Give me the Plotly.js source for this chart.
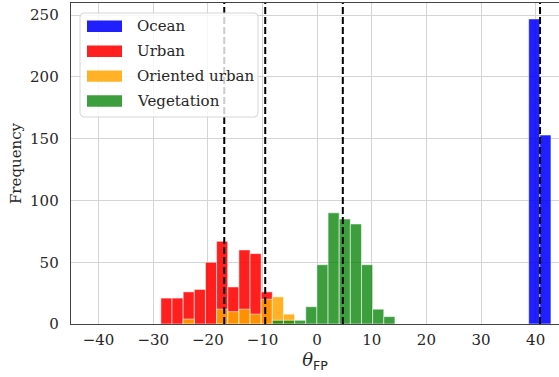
<!DOCTYPE html>
<html>
<head>
<meta charset="utf-8">
<script src="https://cdn.plot.ly/plotly-3.0.1.min.js"></script>
<style>html,body{margin:0;padding:0;background:#fff;}#chart{width:559px;height:377px;}</style>
</head>
<body>
<div id="chart"></div>
<script>
// ---- data ----
const categories = ['Ocean', 'Urban', 'Oriented urban', 'Vegetation'];
// bin centres (degrees) and counts per class
const oceanX = [39.74, 41.78];
const oceanY = [247, 153];
const urbanX = [-27.58, -25.54, -23.50, -21.46, -19.42, -17.38, -15.34, -13.30, -11.26, -9.22];
const urbanY = [21, 21, 26, 28, 50, 67, 30, 60, 57, 26];
const orientedX = [-23.50, -17.38, -15.34, -13.30, -11.26, -9.22, -7.18, -5.14];
const orientedY = [4, 12, 10, 12, 8, 20, 22, 8];
const vegX = [-7.18, -5.14, -3.10, -1.06, 0.98, 3.02, 5.06, 7.10, 9.14, 11.18, 13.22];
const vegY = [3, 3, 3, 14, 48, 90, 85, 81, 48, 12, 6];
const binWidth = 2.04;
// class means (dashed lines)
const meanX = [40.8, -17.0, -9.5, 4.7];
const xTickVals = [-40, -30, -20, -10, 0, 10, 20, 30, 40];
const yTickVals = [0, 50, 100, 150, 200, 250];

(function () {
// ---- styling ----
const colors = ['rgba(0,0,255,0.88)', 'rgba(255,0,0,0.88)', 'rgba(255,165,0,0.85)', 'rgba(0,128,0,0.76)'];
const FONT = 'DejaVu Serif, serif';
const FS = 15;
const TXT = '#262626';

const seriesX = [oceanX, urbanX, orientedX, vegX];
const seriesY = [oceanY, urbanY, orientedY, vegY];

const traces = categories.map((name, i) => ({
  type: 'bar',
  name: name,
  x: seriesX[i],
  y: seriesY[i],
  width: seriesX[i].map(() => binWidth),
  marker: {color: colors[i], line: {color: 'rgba(255,255,255,0.55)', width: 1}},
  showlegend: false,
  hoverinfo: 'x+y+name'
}));

// plot-area geometry in pixels (for the hand-made legend)
const W = 559, H = 377;
const M = {l: 71, r: 0, t: 3, b: 53};
const pw = W - M.l - M.r, ph = H - M.t - M.b;
const px = v => (v - M.l) / pw;
const py = v => (H - M.b - v) / ph;

const shapes = [];
meanX.forEach(m => shapes.push({
  type: 'line', xref: 'x', yref: 'paper', x0: m, x1: m, y0: 0, y1: 1,
  line: {color: '#000', width: 2, dash: '7px,3px'}, layer: 'above'
}));

// legend frame (rounded rectangle)
const L = {x0: 80, x1: 258, y0: 13, y1: 117, r: 4};
const rx = L.r / pw, ry = L.r / ph;
const la = px(L.x0), lb = px(L.x1), lt = py(L.y0), lbot = py(L.y1);
const path = `M ${la + rx} ${lt} L ${lb - rx} ${lt} Q ${lb} ${lt} ${lb} ${lt - ry} ` +
  `L ${lb} ${lbot + ry} Q ${lb} ${lbot} ${lb - rx} ${lbot} L ${la + rx} ${lbot} Q ${la} ${lbot} ${la} ${lbot + ry} ` +
  `L ${la} ${lt - ry} Q ${la} ${lt} ${la + rx} ${lt} Z`;
shapes.push({type: 'path', xref: 'paper', yref: 'paper', path: path,
  fillcolor: 'rgba(255,255,255,0.8)', line: {color: '#d6d6d6', width: 1}, layer: 'above'});

const annotations = [];
categories.forEach((name, i) => {
  const cy = 26.3 + i * 24.9;
  shapes.push({type: 'rect', xref: 'paper', yref: 'paper',
    x0: px(87), x1: px(122), y0: py(cy - 5.7), y1: py(cy + 5.7),
    fillcolor: colors[i], line: {width: 0}, layer: 'above'});
  annotations.push({xref: 'paper', yref: 'paper', x: px(135), y: py(cy),
    xanchor: 'left', yanchor: 'middle', showarrow: false, text: name,
    font: {family: FONT, size: FS, color: TXT}});
});

const layout = {
  width: W, height: H,
  margin: M,
  paper_bgcolor: '#fff', plot_bgcolor: '#fff',
  barmode: 'overlay', bargap: 0,
  font: {family: FONT, size: FS, color: TXT},
  xaxis: {
    range: [-45.05, 44.27], tickvals: xTickVals, ticks: '', ticklabelstandoff: 2,
    showgrid: true, gridcolor: '#d4d4d4', gridwidth: 1, zeroline: false,
    showline: true, linecolor: '#444', linewidth: 1.3, mirror: true,
    tickfont: {family: FONT, size: FS, color: TXT},
    title: {text: '<i>θ</i><sub><span style="font-family:DejaVu Sans">FP</span></sub>', standoff: 4,
      font: {family: FONT, size: 18, color: TXT}}
  },
  yaxis: {
    range: [0, 259.9], tickvals: yTickVals, ticks: '', ticklabelstandoff: 8,
    showgrid: true, gridcolor: '#d4d4d4', gridwidth: 1, zeroline: false,
    showline: true, linecolor: '#444', linewidth: 1.3, mirror: false,
    tickfont: {family: FONT, size: FS, color: TXT},
    title: {text: 'Frequency', standoff: 4, font: {family: FONT, size: FS, color: TXT}}
  },
  shapes: shapes,
  annotations: annotations
};

Plotly.newPlot('chart', traces, layout, {displayModeBar: false, staticPlot: true});
})();
</script>
</body>
</html>
